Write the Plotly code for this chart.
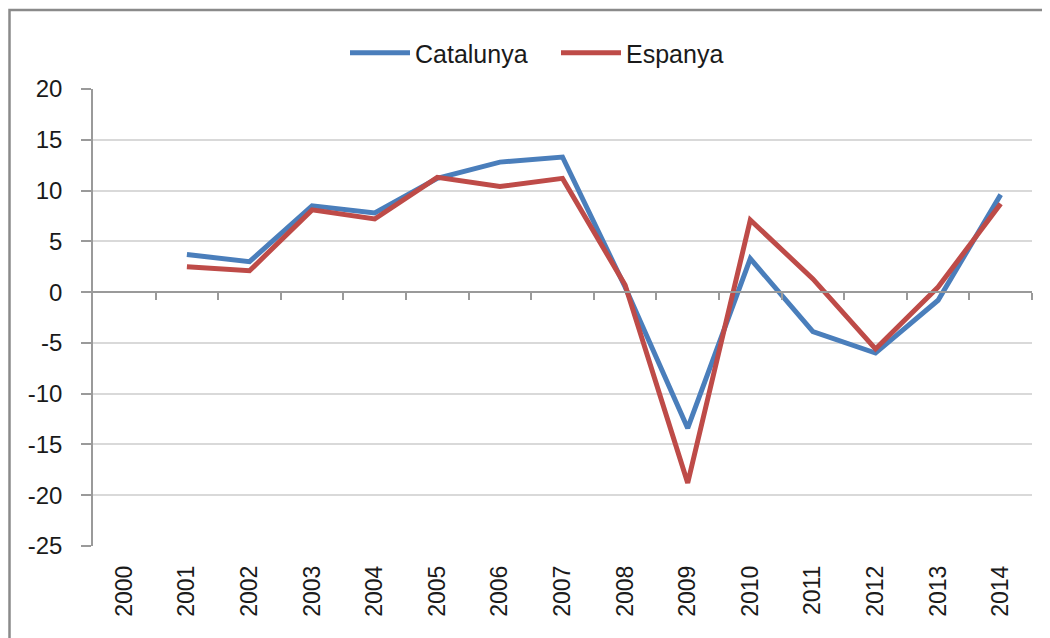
import plotly.graph_objects as go

years = ["2000", "2001", "2002", "2003", "2004", "2005", "2006", "2007",
         "2008", "2009", "2010", "2011", "2012", "2013", "2014"]
catalunya = [None, 3.7, 3.0, 8.5, 7.8, 11.2, 12.8, 13.3, 0.5, -13.4, 3.3, -3.9, -6.0, -0.8, 9.6]
espanya = [None, 2.5, 2.1, 8.1, 7.2, 11.3, 10.4, 11.2, 0.7, -18.8, 7.1, 1.3, -5.6, 0.5, 8.7]
y_ticks = [20, 15, 10, 5, 0, -5, -10, -15, -20, -25]
y_tick_text = [str(v) for v in y_ticks]

idx = list(range(len(years)))
y_min, y_max = -25, 20
x_range = [-0.5, len(years) - 0.5]

# page has an 8px body margin; the figure is sized to fit inside it
OFF = 8
W, H = 1050 - OFF, 638 - OFF
ml, mr, mt, mb = 93 - OFF, 18, 89 - OFF, 92
pw, ph = W - ml - mr, H - mt - mb

fig = go.Figure()
fig.add_trace(go.Scatter(x=idx, y=catalunya, mode="lines", name="Catalunya",
                         line=dict(color="#4A7EBB", width=5), connectgaps=False))
fig.add_trace(go.Scatter(x=idx, y=espanya, mode="lines", name="Espanya",
                         line=dict(color="#BE4B48", width=5), connectgaps=False))
# invisible trace for the zero-crossing category axis
fig.add_trace(go.Scatter(x=[x_range[0]], y=[0], xaxis="x2", mode="markers",
                         marker=dict(opacity=0), showlegend=False, hoverinfo="skip"))

zero_pos = (0 - y_min) / (y_max - y_min)
boundaries = [i + 0.5 for i in idx]

fig.update_layout(
    width=W, height=H,
    margin=dict(l=ml, r=mr, t=mt, b=mb, autoexpand=False),
    paper_bgcolor="white", plot_bgcolor="white",
    font=dict(family="Liberation Sans, Arial", color="#1a1a1a"),
    showlegend=True,
    legend=dict(orientation="h", x=(345 - OFF - ml) / pw, xanchor="left",
                y=1 + (mt - (53 - OFF)) / ph, yanchor="middle",
                font=dict(size=25, family="Liberation Sans, Arial"),
                itemwidth=60, entrywidth=136, bgcolor="rgba(0,0,0,0)"),
    xaxis=dict(range=x_range, tickvals=idx, ticktext=years, tickangle=-90,
               showgrid=False, zeroline=False, showline=False, ticks="",
               automargin=False,
               tickfont=dict(size=23, family="Liberation Sans, Arial"),
               ticklabelstandoff=14),
    xaxis2=dict(range=x_range, overlaying="x", anchor="free", position=zero_pos,
                side="bottom", showline=True, linecolor="#9a9a9a", linewidth=1.5,
                ticks="outside", ticklen=7, tickcolor="#9a9a9a", tickwidth=1.5,
                automargin=False,
                tickvals=boundaries, showticklabels=False, showgrid=False, zeroline=False),
    yaxis=dict(range=[y_min, y_max], tickvals=y_ticks, ticktext=y_tick_text, showgrid=True,
               gridcolor="#d9d9d9", gridwidth=1.5, zeroline=False,
               showline=True, linecolor="#9a9a9a", linewidth=1.5,
               ticks="outside", ticklen=10, tickcolor="#9a9a9a", tickwidth=1.5,
               automargin=False,
               tickfont=dict(size=24, family="Liberation Sans, Arial"),
               ticklabelstandoff=14),
)

# outer chart border
fig.add_shape(type="rect", xref="paper", yref="paper",
              x0=(1.5 - ml) / pw, x1=(W + 5 - ml) / pw,
              y0=-(H + 5 - mt - ph) / ph, y1=1 + (mt - (10 - OFF)) / ph,
              line=dict(color="#8a8a8a", width=2.5), fillcolor="rgba(0,0,0,0)",
              layer="below")

fig.write_html("out.html")
